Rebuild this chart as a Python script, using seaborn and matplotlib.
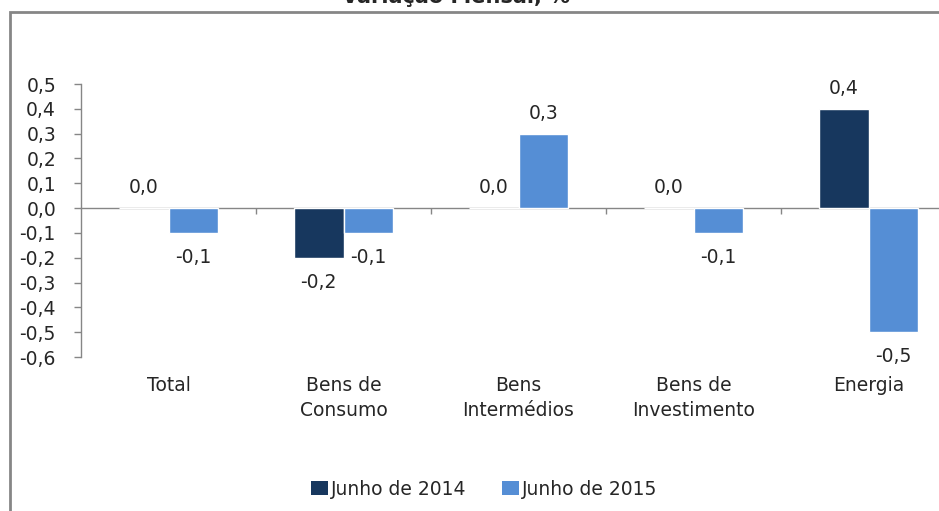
import pandas as pd
import matplotlib.pyplot as plt
import seaborn as sns
from matplotlib.patches import Patch, Rectangle

# Data
categories = ["Total", "Bens de\nConsumo", "Bens\nIntermédios", "Bens de\nInvestimento", "Energia"]
series_names = ["Junho de 2014", "Junho de 2015"]
jun_2014 = [0.0, -0.2, 0.0, 0.0, 0.4]
jun_2015 = [-0.1, -0.1, 0.3, -0.1, -0.5]
y_ticks = [0.5, 0.4, 0.3, 0.2, 0.1, 0.0, -0.1, -0.2, -0.3, -0.4, -0.5, -0.6]

colors = ["#17375E", "#558ED5"]
grey = "#868686"
fs = 13.5

df = pd.DataFrame({
    "categoria": categories * 2,
    "serie": [series_names[0]] * len(categories) + [series_names[1]] * len(categories),
    "valor": jun_2014 + jun_2015,
})

sns.set_style("white")
plt.rcParams["font.family"] = ["DejaVu Sans"]
plt.rcParams["font.size"] = fs

fig = plt.figure(figsize=(9.39, 5.11), dpi=100)
ax = fig.add_axes([81 / 939, 1 - 357 / 511, 875 / 939, 273 / 511])

sns.barplot(data=df, x="categoria", y="valor", hue="serie", palette=colors,
            width=0.57, ax=ax, legend=False, saturation=1)

def fmt(v):
    return f"{v:.1f}".replace(".", ",")

# value labels (Excel "outside end")
for container, vals in zip(ax.containers, [jun_2014, jun_2015]):
    for bar, v in zip(container, vals):
        x = bar.get_x() + bar.get_width() / 2
        if v >= 0:
            ax.annotate(fmt(v), (x, v), xytext=(0, 8), textcoords="offset points",
                        ha="center", va="bottom", fontsize=fs)
        else:
            ax.annotate(fmt(v), (x, v), xytext=(0, -11), textcoords="offset points",
                        ha="center", va="top", fontsize=fs)

ax.set_ylim(-0.6, 0.5)
ax.set_xlim(-0.5, len(categories) - 0.5)
ax.set_yticks(y_ticks)
ax.set_yticklabels([fmt(t) for t in y_ticks])
ax.set_xlabel("")
ax.set_ylabel("")
ax.tick_params(axis="y", left=True, length=5, width=1, color=grey, pad=13, labelsize=fs)
ax.tick_params(axis="x", bottom=False, length=0, pad=14, labelsize=fs)
for lbl in ax.get_xticklabels():
    lbl.set_linespacing(1.4)

for s in ["top", "right", "bottom"]:
    ax.spines[s].set_visible(False)
ax.spines["left"].set_color(grey)
ax.spines["left"].set_linewidth(1)

# category axis drawn at zero, with tick marks between categories
secax = ax.secondary_xaxis(0, transform=ax.transData)
secax.set_xticks([i + 0.5 for i in range(len(categories) - 1)])
secax.set_xticklabels([])
secax.tick_params(length=4, width=1, color=grey)
secax.spines["bottom"].set_color(grey)
secax.spines["bottom"].set_linewidth(1)

# legend
handles = [Patch(facecolor=c, edgecolor="none") for c in colors]
fig.legend(handles, series_names, loc="center", bbox_to_anchor=(484 / 939, 1 - 489 / 511),
           ncol=2, frameon=False, fontsize=fs, handlelength=0.9, handleheight=0.85,
           handletextpad=0.15, columnspacing=1.9)

# chart frame and cropped title
fig.add_artist(Rectangle((9.5 / 939, -0.1), 1.2, 1 - 12.5 / 511 + 0.1, transform=fig.transFigure,
                         fill=False, edgecolor=grey, linewidth=2))
fig.text(456 / 939, 1 - 3 / 511, "Variação Mensal, %", ha="center", va="baseline",
         fontsize=15, fontweight="bold")

fig.savefig("out.png", dpi=100)
